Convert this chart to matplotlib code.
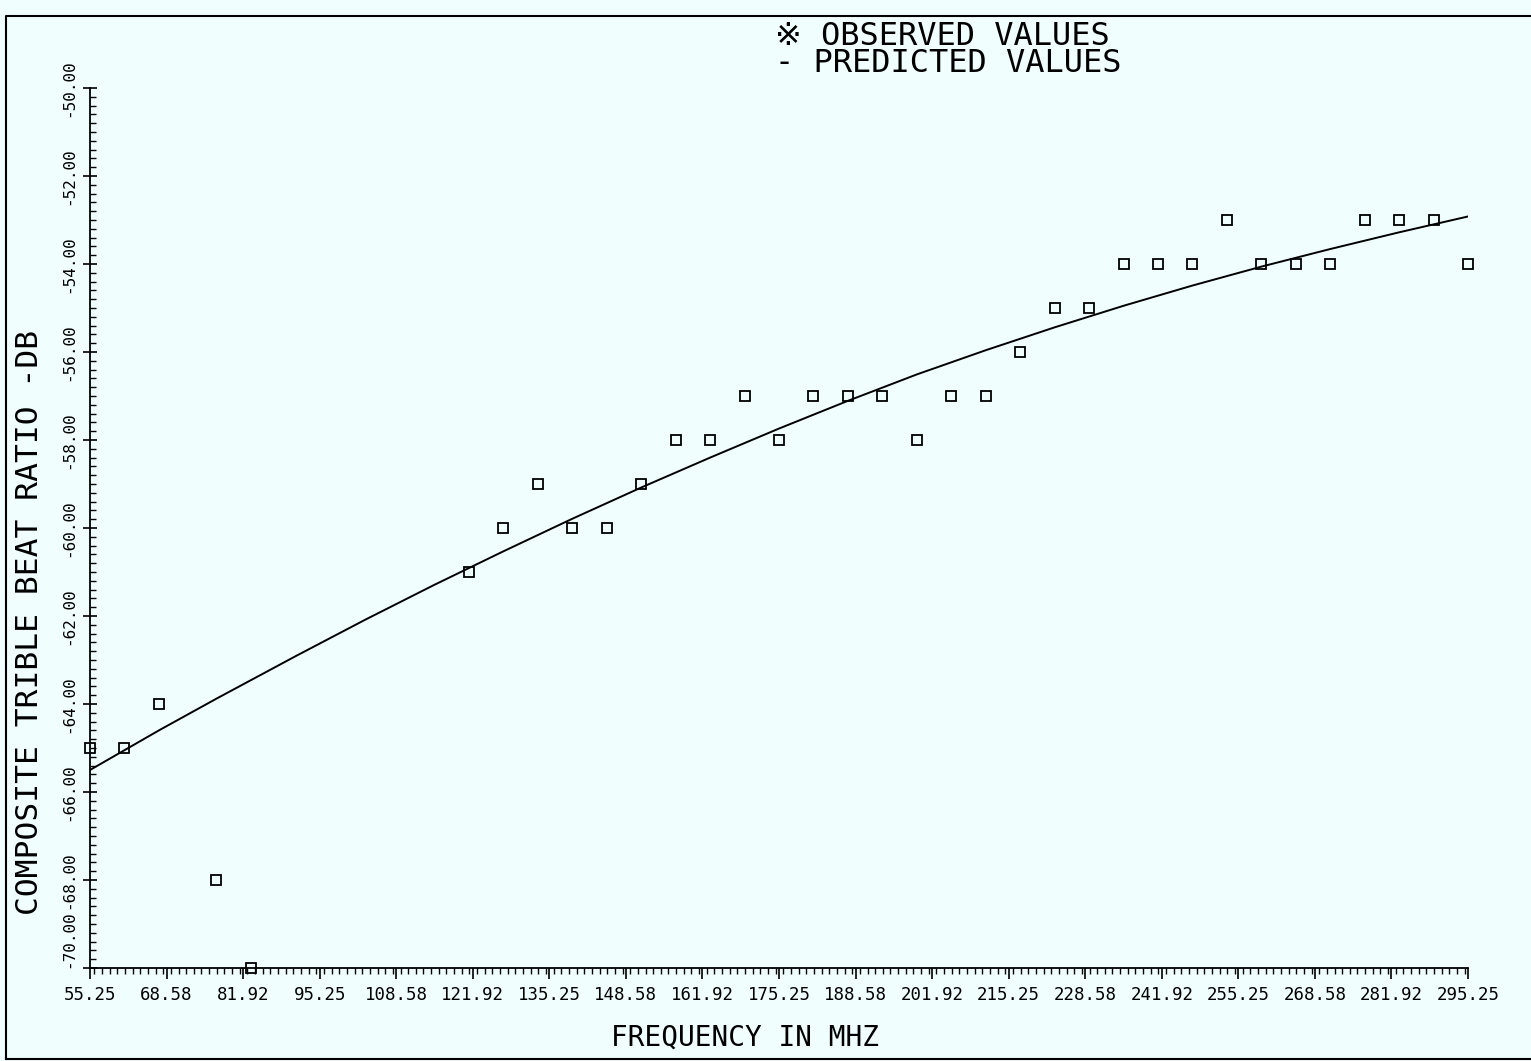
import numpy as np
import matplotlib.pyplot as plt
from matplotlib.ticker import FixedLocator, MultipleLocator, FormatStrFormatter
from matplotlib.lines import Line2D

# observed CTB values (MHz, dB)
obs_freq = [55.25, 61.25, 67.25, 77.25, 83.25,
            121.25, 127.25, 133.25, 139.25, 145.25, 151.25, 157.25, 163.25,
            169.25, 175.25, 181.25, 187.25, 193.25, 199.25, 205.25, 211.25,
            217.25, 223.25, 229.25, 235.25, 241.25, 247.25, 253.25, 259.25,
            265.25, 271.25, 277.25, 283.25, 289.25, 295.25]
obs_db = [-65, -65, -64, -68, -70,
          -61, -60, -59, -60, -60, -59, -58, -58,
          -57, -58, -57, -57, -57, -58, -57, -57,
          -56, -55, -55, -54, -54, -54, -53, -54,
          -54, -54, -53, -53, -53, -54]

# predicted curve
pred_freq = [55.25, 67.25, 77.25, 91.25, 103.25, 115.25, 127.25, 139.25,
             151.25, 163.25, 175.25, 187.25, 199.25, 211.25, 223.25, 235.25,
             247.25, 259.25, 271.25, 283.25, 295.25]
pred_db = [-65.50, -64.60, -63.88, -62.90, -62.08, -61.29, -60.53, -59.79,
           -59.08, -58.40, -57.74, -57.11, -56.51, -55.96, -55.44, -54.95,
           -54.49, -54.06, -53.66, -53.28, -52.92]

x_ticks = [55.25 + i * 40 / 3 for i in range(19)]
y_ticks = list(range(-70, -49, 2))

fam = ['DejaVu Sans Mono', 'DejaVu Sans']
bg = '#f0fefe'

fig = plt.figure(figsize=(15.31, 10.61), dpi=100, facecolor=bg)
ax = fig.add_axes([90 / 1531, 93 / 1061, 1378 / 1531, 880 / 1061], facecolor=bg)

ax.plot(pred_freq, pred_db, color='black', lw=1.4)
ax.plot(obs_freq, obs_db, linestyle='none', marker='s', ms=6.5, mfc='none',
        mec='black', mew=1.3, clip_on=False)

ax.set_xlim(55.25, 295.25)
ax.set_ylim(-70, -50)
for s in ['top', 'right']:
    ax.spines[s].set_visible(False)
ax.spines['left'].set_linewidth(1.3)
ax.spines['bottom'].set_linewidth(1.3)

ax.xaxis.set_major_locator(FixedLocator(x_ticks))
ax.xaxis.set_minor_locator(MultipleLocator(4 / 3))
ax.yaxis.set_major_locator(FixedLocator(y_ticks))
ax.yaxis.set_minor_locator(MultipleLocator(0.2))
ax.xaxis.set_major_formatter(FormatStrFormatter('%.2f'))
ax.yaxis.set_major_formatter(FormatStrFormatter('%.2f'))

ax.tick_params(axis='x', which='major', direction='out', length=8, width=1.2, pad=5)
ax.tick_params(axis='x', which='minor', direction='out', length=4, width=1)
ax.tick_params(axis='y', which='major', direction='inout', length=10, width=1.2, pad=5)
ax.tick_params(axis='y', which='minor', direction='in', length=4, width=1)

for lab in ax.get_xticklabels():
    lab.set_family(fam)
    lab.set_fontsize(12.5)
for i, lab in enumerate(ax.get_yticklabels()):
    lab.set_family(fam)
    lab.set_fontsize(11.5)
    lab.set_rotation(90)
    lab.set_va('bottom' if i == 0 else 'center')

fig.text(30 / 1531, 1 - 622 / 1061, 'COMPOSITE TRIBLE BEAT RATIO -DB',
         rotation=90, ha='center', va='center', fontsize=22.5, family=fam)
fig.text(745 / 1531, 1 - 1038 / 1061, 'FREQUENCY IN MHZ',
         ha='center', va='center', fontsize=20, family=fam)

fig.text(775 / 1531, 1 - 50 / 1061, '※ OBSERVED VALUES\n- PREDICTED VALUES',
         ha='left', va='center', fontsize=23, family=fam, linespacing=0.85)

# page frame
fig.add_artist(Line2D([6 / 1531, 6 / 1531, 1], [2 / 1061, 1 - 16 / 1061, 1 - 16 / 1061],
                      transform=fig.transFigure, color='black', lw=1.5))
fig.add_artist(Line2D([6 / 1531, 1], [2 / 1061, 2 / 1061],
                      transform=fig.transFigure, color='black', lw=1.5))

fig.savefig('out.png', dpi=100, facecolor=bg)
